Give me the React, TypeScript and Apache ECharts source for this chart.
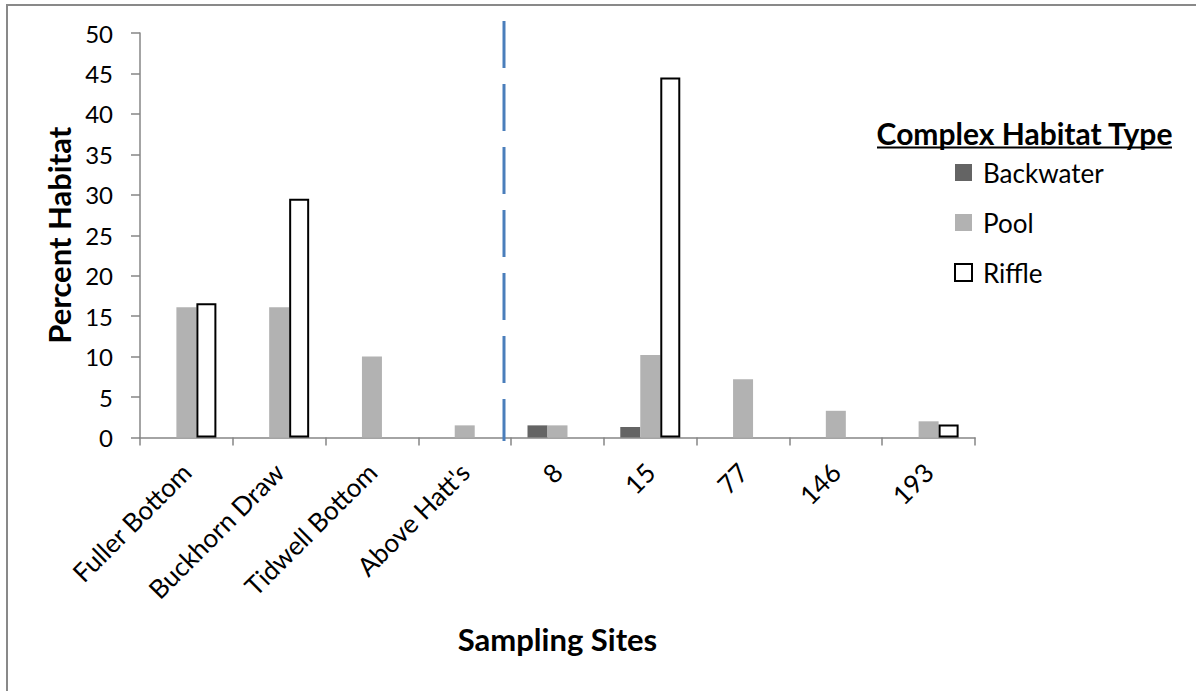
import React, { useEffect, useRef } from "react";
import * as echarts from "echarts";

const sites = ["Fuller Bottom", "Buckhorn Draw", "Tidwell Bottom", "Above Hatt's", "8", "15", "77", "146", "193"];
const backwater = [null, null, null, null, 1.5, 1.3, null, null, null];
const pool = [16.1, 16.1, 10.0, 1.5, 1.5, 10.2, 7.2, 3.3, 2.0];
const riffle = [16.6, 29.5, null, null, null, 44.5, null, null, 1.6];
const yTicks = { min: 0, max: 50, interval: 5 };
const seriesNames = ["Backwater", "Pool", "Riffle"];

const FONT = "Lato, 'Open Sans', sans-serif";

export default function App() {
  const ref = useRef<HTMLDivElement>(null);
  useEffect(() => {
    if (!ref.current) return;
    const chart = echarts.init(ref.current, null, { renderer: "svg" });
    const axisGray = "#868686";
    chart.setOption({
      animation: false,
      backgroundColor: "#ffffff",
      textStyle: { fontFamily: FONT },
      grid: { left: 140, right: 221, top: 33, bottom: 253.5, containLabel: false },
      legend: {
        orient: "vertical",
        left: 954,
        top: 159.5,
        padding: 0,
        itemWidth: 17,
        itemHeight: 17,
        itemGap: 24,
        icon: "rect",
        data: seriesNames,
        textStyle: { fontFamily: FONT, fontSize: 26, color: "#000", lineHeight: 26, padding: [0, 0, 0, 6] },
      },
      xAxis: {
        type: "category",
        data: sites,
        boundaryGap: true,
        name: "Sampling Sites",
        nameLocation: "middle",
        nameGap: 186,
        nameTextStyle: { fontFamily: FONT, fontSize: 31, fontWeight: "bold", color: "#000" },
        axisLine: { lineStyle: { color: axisGray, width: 1.5 } },
        axisTick: { show: true, length: 8, lineStyle: { color: axisGray, width: 1.5 } },
        axisLabel: { rotate: 45, margin: 30, fontFamily: FONT, fontSize: 26, color: "#000", interval: 0 },
        splitLine: { show: false },
      },
      yAxis: {
        type: "value",
        min: yTicks.min,
        max: yTicks.max,
        interval: yTicks.interval,
        name: "Percent Habitat",
        nameLocation: "middle",
        nameGap: 65,
        nameTextStyle: { fontFamily: FONT, fontSize: 31, fontWeight: "bold", color: "#000" },
        axisLine: { show: true, lineStyle: { color: axisGray, width: 1.5 } },
        axisTick: { show: true, length: 9, lineStyle: { color: axisGray, width: 1.5 } },
        axisLabel: { margin: 27, fontFamily: FONT, fontSize: 24, color: "#000" },
        splitLine: { show: false },
      },
      series: [
        {
          name: seriesNames[0],
          type: "bar",
          data: backwater,
          barWidth: 20,
          barGap: "0%",
          itemStyle: { color: "#646464" },
        },
        {
          name: seriesNames[1],
          type: "bar",
          data: pool,
          barWidth: 20,
          barGap: "0%",
          itemStyle: { color: "#b2b2b2" },
        },
        {
          name: seriesNames[2],
          type: "bar",
          data: riffle,
          barWidth: 20,
          barGap: "0%",
          itemStyle: { color: "#ffffff", borderColor: "#000000", borderWidth: 2 },
        },
      ],
      graphic: [
        {
          type: "rect",
          shape: { x: 7, y: 5, width: 1220, height: 720 },
          style: { fill: "none", stroke: "#898989", lineWidth: 2 },
          silent: true,
          z: -1,
        },
        {
          type: "line",
          shape: { x1: 504, y1: 21, x2: 504, y2: 441 },
          style: { stroke: "#4a7ebb", lineWidth: 3, lineDash: [47, 16] },
          silent: true,
          z: 10,
        },
        {
          type: "text",
          x: 1024.5,
          y: 133,
          style: {
            text: "Complex Habitat Type",
            fontFamily: FONT,
            fontSize: 30,
            fontWeight: "bold",
            fill: "#000",
            align: "center",
            verticalAlign: "middle",
          },
          silent: true,
        },
        {
          type: "line",
          shape: { x1: 877, y1: 147.5, x2: 1172, y2: 147.5 },
          style: { stroke: "#000", lineWidth: 2 },
          silent: true,
        },
      ],
    });
    return () => chart.dispose();
  }, []);
  return <div ref={ref} style={{ position: "absolute", left: 0, top: 0, width: 1196, height: 691 }} />;
}
